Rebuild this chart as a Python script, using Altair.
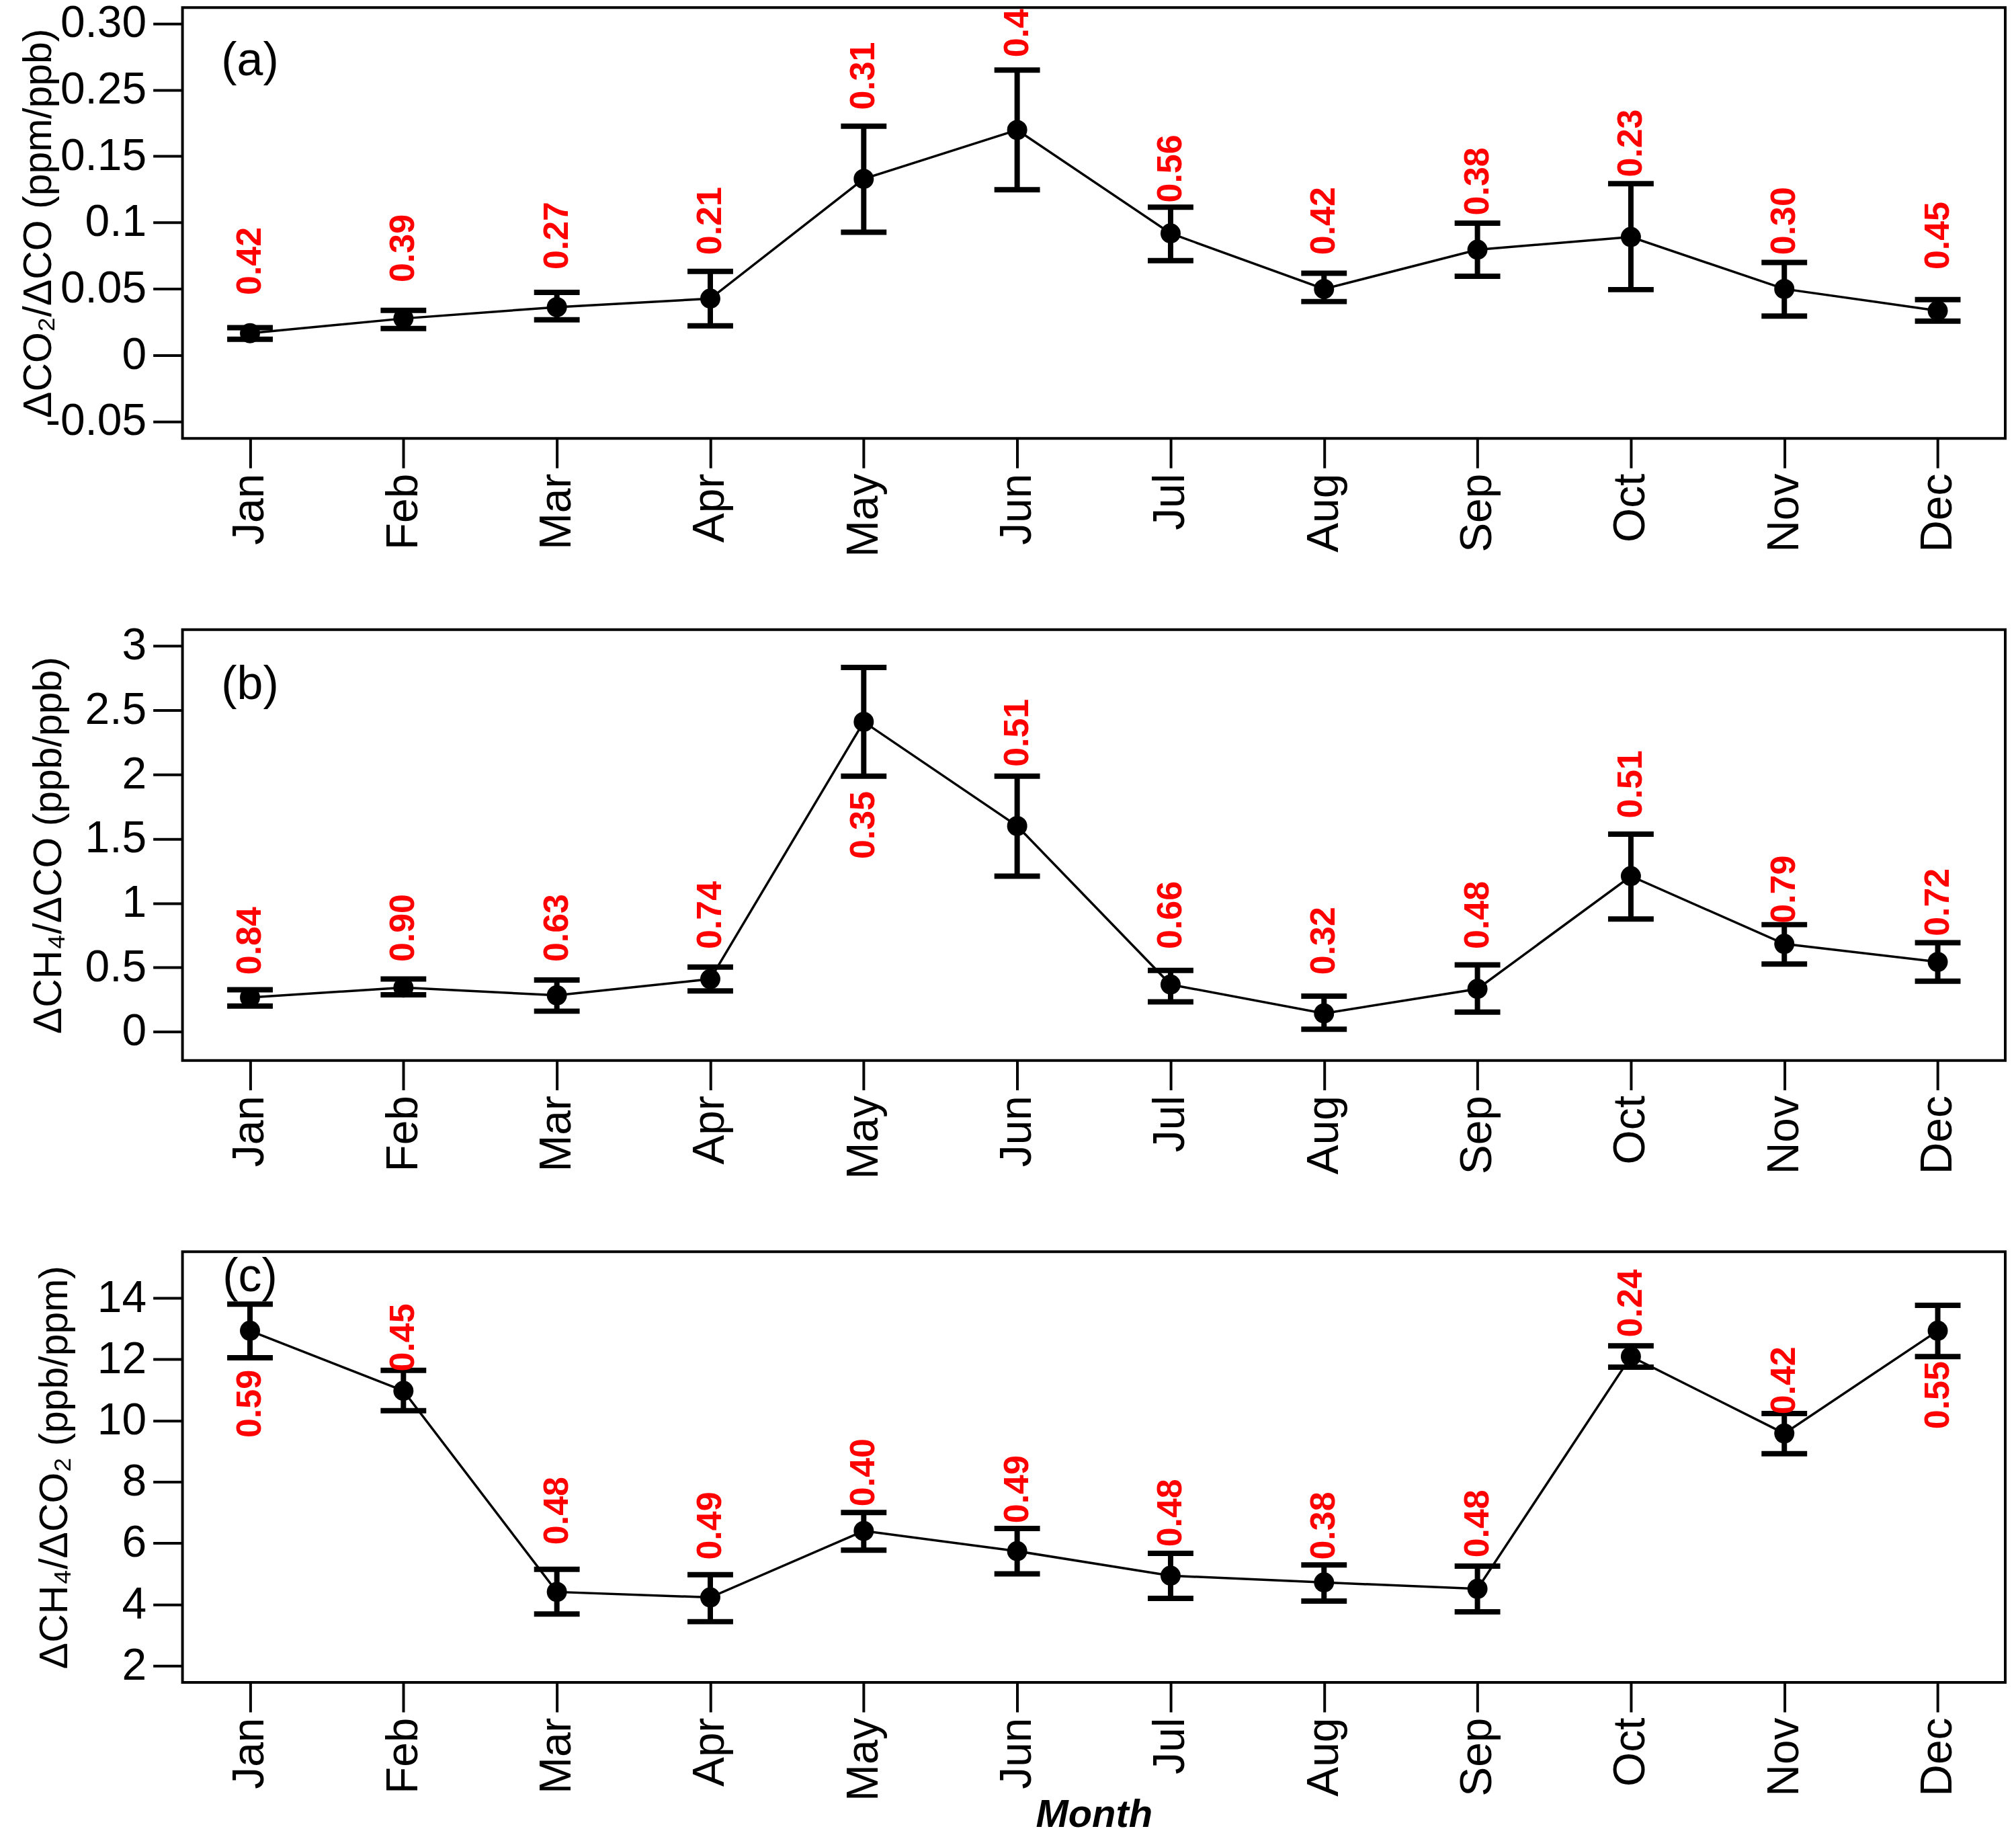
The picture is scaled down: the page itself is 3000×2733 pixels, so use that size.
import pandas as pd
import altair as alt

months = ['Jan', 'Feb', 'Mar', 'Apr', 'May', 'Jun', 'Jul', 'Aug', 'Sep', 'Oct', 'Nov', 'Dec']

# (a) dCO2/dCO
a_mean = [0.0164, 0.0275, 0.0361, 0.0425, 0.1328, 0.1697, 0.0917, 0.0498, 0.0794, 0.0890, 0.0498, 0.0334]
a_hi = [0.0206, 0.0336, 0.0472, 0.0630, 0.1725, 0.2149, 0.1114, 0.0616, 0.0994, 0.1292, 0.0698, 0.0417]
a_lo = [0.0119, 0.0200, 0.0265, 0.0220, 0.0926, 0.1246, 0.0712, 0.0403, 0.0594, 0.0493, 0.0293, 0.0255]
a_r = ['0.42', '0.39', '0.27', '0.21', '0.31', '0.4', '0.56', '0.42', '0.38', '0.23', '0.30', '0.45']
a_r_pos = [0.0452, 0.0548, 0.0644, 0.0755, 0.1848, 0.2245, 0.1149, 0.0755, 0.1053, 0.1341, 0.0755, 0.0644]
a_ticks = [-0.05, 0, 0.05, 0.1, 0.15, 0.2, 0.25]
a_tick_labels = ['-0.05', '0', '0.05', '0.1', '0.15', '0.25', '0.30']

# (b) dCH4/dCO
b_mean = [0.267, 0.343, 0.283, 0.41, 2.41, 1.60, 0.367, 0.143, 0.333, 1.21, 0.683, 0.543]
b_hi = [0.327, 0.41, 0.403, 0.503, 2.833, 1.987, 0.477, 0.277, 0.52, 1.537, 0.833, 0.693]
b_lo = [0.20, 0.287, 0.16, 0.317, 1.987, 1.21, 0.233, 0.02, 0.153, 0.877, 0.527, 0.393]
b_r = ['0.84', '0.90', '0.63', '0.74', '0.35', '0.51', '0.66', '0.32', '0.48', '0.51', '0.79', '0.72']
b_r_pos = [0.443, 0.543, 0.543, 0.643, 1.343, 2.06, 0.643, 0.443, 0.643, 1.66, 0.843, 0.743]
b_ticks = [0, 0.5, 1, 1.5, 2, 2.5, 3]
b_tick_labels = ['0', '0.5', '1', '1.5', '2', '2.5', '3']

# (c) dCH4/dCO2
c_mean = [12.93, 10.97, 4.41, 4.23, 6.40, 5.74, 4.94, 4.72, 4.51, 12.09, 9.58, 12.93]
c_hi = [13.80, 11.64, 5.15, 4.97, 7.00, 6.48, 5.67, 5.29, 5.25, 12.44, 10.23, 13.76]
c_lo = [12.05, 10.32, 3.69, 3.44, 5.77, 5.00, 4.20, 4.11, 3.76, 11.74, 8.92, 12.09]
c_r = ['0.59', '0.45', '0.48', '0.49', '0.40', '0.49', '0.48', '0.38', '0.48', '0.24', '0.42', '0.55']
c_r_pos = [9.44, 11.6, 5.95, 5.46, 7.20, 6.65, 5.88, 5.46, 5.53, 12.72, 10.2, 9.72]
c_ticks = [2, 4, 6, 8, 10, 12, 14]
c_tick_labels = ['2', '4', '6', '8', '10', '12', '14']

FONT = 'Liberation Sans'
W, H = 2717, 642


def label_expr(ticks, labels):
    expr = "''"
    for t, lab in reversed(list(zip(ticks, labels))):
        expr = f"abs(datum.value - ({t})) < 1e-6 ? '{lab}' : ({expr})"
    return expr


def panel(mean, lo, hi, r, r_pos, tag, tag_pos, domain, ticks, tick_labels,
          ytitle, title_x, xtitle=None):
    df = pd.DataFrame({'month': months, 'mean': mean, 'lo': lo, 'hi': hi,
                       'r': r, 'r_pos': r_pos})
    tag_df = pd.DataFrame({'month': ['Jan'], 'pos': [tag_pos], 'tag': [tag]})

    x_axis = alt.Axis(labelAngle=-90, labelPadding=8, title=xtitle,
                      titleFontStyle='italic', titleFontWeight='bold',
                      titleFontSize=58, titleY=198, titleBaseline='middle')
    x = alt.X('month:N', sort=months,
              scale=alt.Scale(type='point', padding=0.44), axis=x_axis)
    yscale = alt.Scale(domain=domain, nice=False, zero=False)
    yaxis = alt.Axis(values=ticks, labelExpr=label_expr(ticks, tick_labels),
                     title=ytitle, titleX=title_x, titleBaseline='middle',
                     labelPadding=10)

    def Y(f):
        return alt.Y(f, scale=yscale, axis=yaxis)

    base = alt.Chart(df)
    bars = base.mark_rule(color='black', strokeWidth=8).encode(
        x=x, y=Y('lo:Q'), y2='hi:Q')
    cap_hi = base.mark_tick(color='black', thickness=8, size=68,
                            orient='horizontal', opacity=1).encode(x=x, y=Y('hi:Q'))
    cap_lo = base.mark_tick(color='black', thickness=8, size=68,
                            orient='horizontal', opacity=1).encode(x=x, y=Y('lo:Q'))
    line = base.mark_line(color='black', strokeWidth=3.5).encode(x=x, y=Y('mean:Q'))
    dots = base.mark_circle(color='black', size=900, opacity=1).encode(
        x=x, y=Y('mean:Q'))
    ratios = base.mark_text(color='#ff0000', font=FONT, fontWeight='bold',
                            fontSize=52, angle=270, align='left',
                            baseline='middle', clip=True).encode(
        x=x, y=Y('r_pos:Q'), text='r:N')
    tag_txt = alt.Chart(tag_df).mark_text(
        font=FONT, fontSize=70, color='black', align='center',
        baseline='middle').encode(x=x, y=Y('pos:Q'), text='tag:N')

    return alt.layer(bars, cap_hi, cap_lo, line, dots, ratios, tag_txt).properties(
        width=W, height=H)


pa = panel(a_mean, a_lo, a_hi, a_r, a_r_pos, '(a)', 0.2217, [-0.0629, 0.262],
           a_ticks, a_tick_labels, 'ΔCO₂/ΔCO (ppm/ppb)', -214)
pb = panel(b_mean, b_lo, b_hi, b_r, b_r_pos, '(b)', 2.695, [-0.223, 3.127],
           b_ticks, b_tick_labels, 'ΔCH₄/ΔCO (ppb/ppb)', -199)
pc = panel(c_mean, c_lo, c_hi, c_r, c_r_pos, '(c)', 14.67, [1.456, 15.51],
           c_ticks, c_tick_labels, 'ΔCH₄/ΔCO₂ (ppb/ppm)', -190, 'Month')

chart = alt.vconcat(pa, pb, pc, spacing=285, bounds='flush').properties(
    padding={'left': 18, 'top': -11, 'right': 6, 'bottom': 0},
    background='white'
).configure_view(
    stroke='black', strokeWidth=4
).configure_axis(
    labelFont=FONT, labelFontSize=66, labelColor='black',
    titleFont=FONT, titleFontSize=59, titleColor='black', titleFontWeight='normal',
    tickColor='black', tickWidth=4, tickSize=44,
    domain=False, grid=False
)

chart.save("out.html", embed_options={"renderer": "svg", "actions": False})
